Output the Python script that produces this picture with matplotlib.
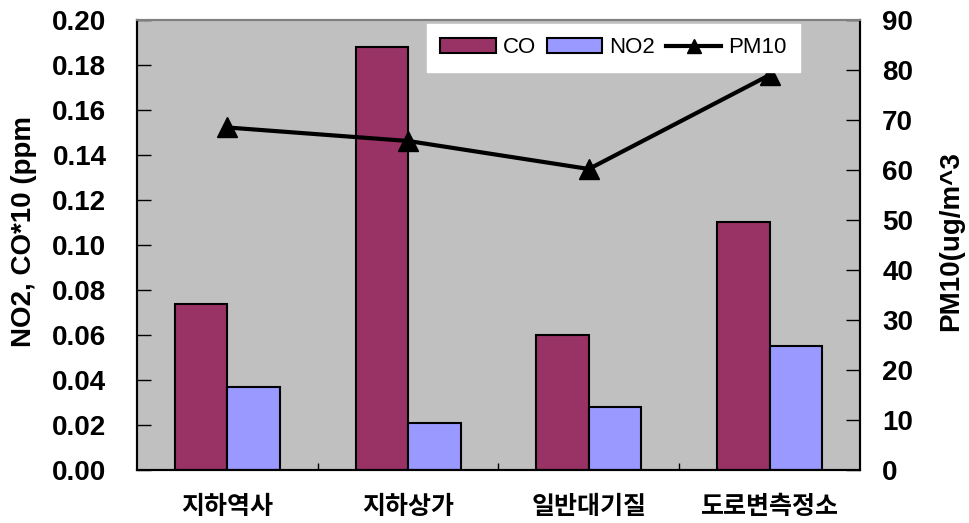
import matplotlib.pyplot as plt
import numpy as np

# data
sites = ['지하역사', '지하상가', '일반대기질', '도로변측정소']
co_x10 = [0.074, 0.188, 0.060, 0.110]
no2 = [0.037, 0.021, 0.028, 0.055]
pm10 = [68.5, 65.8, 60.2, 79.0]

plt.rcParams['font.family'] = ['Liberation Sans', 'DejaVu Sans']

fig = plt.figure(figsize=(9.7, 5.23), dpi=100)
ax = fig.add_axes([0.1412, 0.1013, 0.7454, 0.8605])
ax.set_facecolor('#C0C0C0')

x = np.arange(len(sites))
w = 0.29
b1 = ax.bar(x - w / 2, co_x10, w, color='#993366', edgecolor='black', linewidth=1.5, label='CO')
b2 = ax.bar(x + w / 2, no2, w, color='#9999FF', edgecolor='black', linewidth=1.5, label='NO2')

ax.set_xlim(-0.5, len(sites) - 0.5)
ax.set_ylim(0, 0.20)
ax.set_yticks(np.arange(0, 0.201, 0.02))
ax.set_yticklabels([f'{v:.2f}' for v in np.arange(0, 0.201, 0.02)])
ax.tick_params(axis='y', direction='in', length=10, width=1, pad=22, labelsize=20)
for t in ax.get_yticklabels():
    t.set_fontweight('bold')

ax.set_xticks(x)
ax.set_xticklabels(sites, family=['Noto Sans CJK KR', 'DejaVu Sans'], fontsize=18, fontweight='bold')
ax.set_xticks(np.arange(0.5, len(sites) - 0.5, 1), minor=True)
ax.tick_params(axis='x', which='major', length=0, pad=18)
ax.tick_params(axis='x', which='minor', direction='in', length=5, width=1)

ax.set_ylabel('NO2, CO*10 (ppm', fontsize=20, fontweight='bold')
ax.yaxis.set_label_coords(-0.138, 0.529)

ax2 = ax.twinx()
ln, = ax2.plot(x, pm10, color='black', linewidth=3, marker='^', markersize=15, label='PM10')
ax2.set_ylim(0, 90)
ax2.set_yticks(np.arange(0, 91, 10))
ax2.tick_params(axis='y', direction='in', length=10, width=1, pad=16, labelsize=20)
for t in ax2.get_yticklabels():
    t.set_fontweight('bold')
ax2.set_ylabel('PM10(ug/m^3', fontsize=20, fontweight='bold')
ax2.yaxis.set_label_coords(1.108, 0.509)

for a in (ax, ax2):
    for s in a.spines.values():
        s.set_linewidth(1.5)
        s.set_color('black')
    a.spines['top'].set_color('#808080')

leg = ax2.legend([b1, b2, ln], ['CO', 'NO2', 'PM10'], ncol=3, loc='upper left',
                 bbox_to_anchor=(0.401, 0.991), frameon=True, fancybox=False,
                 fontsize=16, handlelength=2.5, handletextpad=0.3, columnspacing=0.5,
                 borderpad=0.6, borderaxespad=0, markerscale=0.7)
leg.get_frame().set_facecolor('white')
leg.get_frame().set_edgecolor('white')
leg.get_frame().set_alpha(1)

fig.savefig('out.png', dpi=100)
